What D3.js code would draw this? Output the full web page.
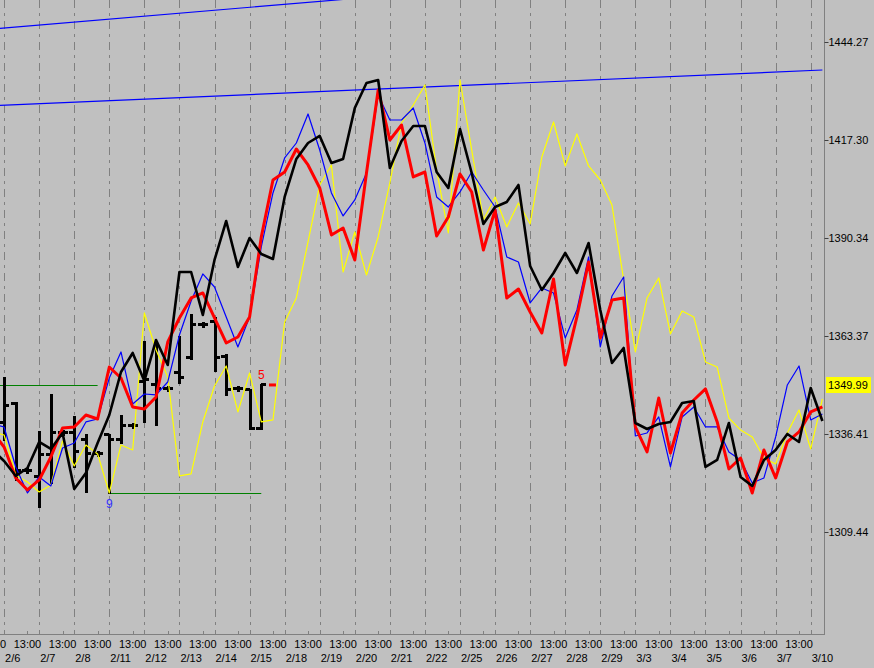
<!DOCTYPE html>
<html><head><meta charset="utf-8">
<script src="https://cdn.jsdelivr.net/npm/d3@7"></script>
<style>html,body{margin:0;padding:0;background:#c0c0c0;overflow:hidden}</style>
</head><body><svg id="c" width="874" height="668"></svg>
<script>
// ---- data ----
const dates = ["2/6","2/7","2/8","2/11","2/12","2/13","2/14","2/15","2/18","2/19","2/20","2/21","2/22","2/25","2/26","2/27","2/28","2/29","3/3","3/4","3/5","3/6","3/7","3/10"];
const timeLabel = "13:00";
const yTicks = [1309.44, 1336.41, 1363.37, 1390.34, 1417.30, 1444.27];
const lastValue = 1349.99;

const blackLine = [1332.01,1328.99,1324.86,1327.06,1334.21,1332.29,1336.69,1321.28,1325.68,1333.94,1341.64,1353.47,1358.70,1351.00,1362.28,1355.40,1380.99,1380.99,1369.16,1384.29,1395.02,1382.36,1390.34,1385.94,1384.57,1401.63,1412.08,1416.48,1418.41,1410.98,1412.08,1426.11,1432.99,1433.82,1409.60,1417.03,1421.16,1421.16,1408.50,1404.10,1420.34,1408.23,1394.20,1398.87,1400.25,1404.93,1382.64,1376.04,1380.71,1386.22,1380.71,1388.97,1370.53,1355.95,1360.08,1339.44,1337.79,1339.17,1339.72,1344.94,1345.49,1327.33,1329.26,1339.44,1324.58,1322.11,1329.26,1332.01,1336.41,1334.21,1349.07,1339.99];
const redLine = [1336.97,1332.84,1324.31,1321.01,1323.76,1330.09,1338.07,1338.34,1341.64,1340.54,1354.85,1351.82,1343.84,1343.29,1346.60,1361.73,1368.33,1373.83,1375.21,1368.33,1361.45,1363.10,1368.61,1390.62,1406.30,1408.50,1414.83,1410.43,1404.10,1391.17,1393.10,1384.29,1408.23,1431.07,1417.31,1421.44,1407.13,1408.50,1390.89,1396.12,1407.95,1403.00,1387.04,1398.05,1373.83,1376.31,1369.98,1364.21,1379.06,1355.40,1368.61,1383.74,1362.83,1373.28,1373.83,1338.34,1331.46,1346.32,1331.19,1342.19,1345.77,1348.80,1339.72,1326.78,1329.81,1320.18,1332.01,1324.31,1334.21,1336.97,1342.47,1343.84];
const blueLine = [1339.17,1338.34,1327.33,1320.18,1324.58,1322.11,1332.56,1333.94,1339.72,1340.54,1351.82,1358.98,1344.67,1347.42,1347.15,1350.72,1363.65,1373.01,1380.44,1376.86,1368.61,1360.35,1368.61,1387.87,1402.73,1412.36,1416.48,1424.46,1414.56,1402.73,1396.40,1400.80,1408.23,1429.69,1422.81,1422.81,1426.11,1416.48,1401.63,1398.87,1403.00,1408.50,1403.55,1398.87,1385.12,1383.74,1372.46,1376.59,1375.21,1362.83,1370.53,1385.12,1360.35,1374.39,1379.61,1335.86,1336.69,1341.09,1327.33,1341.09,1343.84,1338.34,1338.34,1331.46,1329.26,1322.93,1324.31,1335.59,1349.90,1355.13,1340.27,1341.92];
const yellowLine = [1336.97,1336.14,1325.13,1323.21,1320.46,1322.38,1334.49,1327.61,1333.39,1330.91,1320.18,1333.39,1332.01,1369.71,1359.53,1352.10,1324.86,1325.41,1339.72,1349.62,1355.13,1342.47,1353.20,1339.72,1340.27,1367.23,1373.83,1389.24,1404.93,1410.43,1380.99,1392.00,1380.16,1390.62,1405.48,1421.99,1426.94,1432.44,1409.05,1391.72,1433.82,1414.56,1395.30,1401.63,1393.37,1399.97,1394.20,1412.63,1422.26,1410.16,1418.96,1410.16,1406.30,1399.42,1378.79,1358.98,1373.83,1379.34,1363.93,1370.26,1368.61,1356.23,1354.85,1340.82,1337.52,1335.59,1329.81,1328.16,1336.69,1343.02,1332.29,1346.05];

// OHLC bars, starting at bar index 1
const barStart = 1;
const barOpen  = [1339.44,1344.67,1326.23,1324.58,1330.64,1336.69,1336.69,1334.76,1330.91,1336.14,1334.76,1338.62,1350.72,1349.90,1348.80,1353.20,1357.32,1366.40,1367.23,1357.60,1348.80,1348.52,1337.79];
const barHigh  = [1351.82,1344.94,1326.78,1336.97,1347.15,1337.24,1341.09,1336.14,1331.46,1336.14,1341.37,1339.17,1361.73,1360.90,1349.35,1363.10,1369.16,1366.96,1368.33,1358.15,1349.35,1348.52,1349.90];
const barLow   = [1334.76,1323.76,1325.68,1316.33,1322.93,1336.14,1327.33,1320.46,1330.36,1320.18,1333.94,1338.07,1339.72,1338.89,1348.25,1350.45,1357.05,1365.86,1353.75,1347.15,1348.25,1337.79,1337.79];
const barClose = [1344.12,1326.23,1326.23,1330.64,1336.69,1336.69,1331.46,1330.91,1330.91,1334.76,1338.62,1338.62,1351.27,1348.80,1348.80,1351.82,1366.40,1366.40,1357.32,1348.52,1348.80,1337.79,1349.90];
const markIndex = [24], markValue = [1349.90];

const trendA = [[0, 1447.86], [30, 1455.98]];
const trendB = [[0, 1426.76], [71, 1436.56]];
const greenLevels = [[0, 9, 1349.99], [10, 23, 1320.18]];
const swingLabels = [[10, 1320.18, "9", "below"], [23, 1349.90, "5", "above"]];

// ---- drawing ----
const W = 874, H = 668, plotR = 824, plotB = 634;
const svg = d3.select("#c");
const font = "'Liberation Sans', Arial, sans-serif";
const x = d3.scaleLinear().domain([0, 71]).range([-7.6, 822.4]);
const y = d3.scaleLinear().domain([1309.44, 1444.27]).range([532, 42]);

svg.append("rect").attr("width", W).attr("height", H).attr("fill", "#c0c0c0");
svg.append("defs").append("clipPath").attr("id", "clip")
  .append("rect").attr("x", 0).attr("y", 0).attr("width", plotR).attr("height", plotB);
const g = svg.append("g").attr("clip-path", "url(#clip)");

// vertical dashed grid at day starts
const gridIdx = d3.range(1, 72, 3);
g.selectAll("line.grid").data(gridIdx).join("line")
  .attr("x1", d => Math.round(x(d)) + 0.5).attr("x2", d => Math.round(x(d)) + 0.5)
  .attr("y1", 0).attr("y2", plotB)
  .attr("stroke", "#808080").attr("stroke-width", 1).attr("stroke-dasharray", "8,5,3,5");

// trend lines
[trendA, trendB].forEach(t => {
  g.append("line").attr("x1", x(t[0][0])).attr("y1", y(t[0][1]))
    .attr("x2", x(t[1][0])).attr("y2", y(t[1][1]))
    .attr("stroke", "#0000ff").attr("stroke-width", 1.2);
});
// green levels
greenLevels.forEach(l => {
  g.append("line").attr("x1", x(l[0])).attr("x2", x(l[1]))
    .attr("y1", Math.round(y(l[2])) + 0.5).attr("y2", Math.round(y(l[2])) + 0.5)
    .attr("stroke", "#008000").attr("stroke-width", 1);
});

// OHLC bars
const bars = barOpen.map((o, k) => ({i: k + barStart, o, h: barHigh[k], l: barLow[k], c: barClose[k]}));
const bg = g.append("g").attr("stroke", "#000").attr("stroke-width", 3).attr("shape-rendering", "crispEdges");
bars.forEach(b => {
  const cx = Math.round(x(b.i));
  bg.append("line").attr("x1", cx).attr("x2", cx).attr("y1", y(b.h) - 1).attr("y2", y(b.l) + 1);
  bg.append("line").attr("x1", cx - 5).attr("x2", cx).attr("y1", y(b.o)).attr("y2", y(b.o));
  bg.append("line").attr("x1", cx).attr("x2", cx + 5).attr("y1", y(b.c)).attr("y2", y(b.c));
});
markIndex.forEach((mi, k) => {
  g.append("line").attr("x1", x(mi) - 4).attr("x2", x(mi) + 3)
    .attr("y1", y(markValue[k])).attr("y2", y(markValue[k]))
    .attr("stroke", "#ff0000").attr("stroke-width", 3);
});

// series lines
const line = d3.line().x((d, i) => x(i)).y(d => y(d));
const series = [
  [yellowLine, "#ffff00", 1.2],
  [blueLine, "#0000ff", 1.2],
  [redLine, "#ff0000", 3],
  [blackLine, "#000000", 2.6]
];
series.forEach(s => {
  g.append("path").datum(s[0]).attr("d", line).attr("fill", "none")
    .attr("stroke", s[1]).attr("stroke-width", s[2]).attr("stroke-linejoin", "round");
});

// swing labels
swingLabels.forEach(s => {
  g.append("text").attr("x", x(s[0])).attr("y", s[3] === "below" ? y(s[1]) + 15 : y(s[1]) - 6)
    .attr("text-anchor", "middle").attr("font-family", font).attr("font-size", 12)
    .attr("fill", s[3] === "below" ? "#3030ff" : "#ff0000").text(s[2]);
});

// axes frame
svg.append("line").attr("x1", plotR + 0.5).attr("x2", plotR + 0.5).attr("y1", 0).attr("y2", plotB + 1)
  .attr("stroke", "#808080");
svg.append("line").attr("x1", 0).attr("x2", plotR + 1).attr("y1", plotB + 0.5).attr("y2", plotB + 0.5)
  .attr("stroke", "#808080");

// right axis ticks + labels
const yAxis = d3.axisRight(y).tickValues(yTicks).tickSize(4).tickFormat(d3.format(".2f"));
const ya = svg.append("g").attr("transform", `translate(${plotR + 0.5},0)`).call(yAxis);
ya.select(".domain").remove();
ya.selectAll(".tick line").attr("stroke", "#404040");
ya.selectAll(".tick text").attr("x", 4).attr("dy", "0.36em")
  .attr("font-family", font).attr("font-size", 11).attr("fill", "#000");

// last value box
const ly = y(lastValue);
svg.append("rect").attr("x", 826).attr("y", Math.round(ly) - 8).attr("width", 45).attr("height", 16).attr("fill", "#ffff00");
svg.append("text").attr("x", 828).attr("y", ly).attr("dy", "0.36em")
  .attr("font-family", font).attr("font-size", 11).attr("fill", "#000").text(d3.format(".2f")(lastValue));

// bottom axis: 13:00 ticks and labels
const timeIdx = d3.range(0, 72, 3);
svg.selectAll("line.tt").data(timeIdx).join("line")
  .attr("x1", d => Math.round(x(d)) + 0.5).attr("x2", d => Math.round(x(d)) + 0.5)
  .attr("y1", plotB - 3).attr("y2", plotB).attr("stroke", "#808080");
svg.selectAll("text.tl").data(timeIdx).join("text")
  .attr("x", d => x(d)).attr("y", 648).attr("text-anchor", "middle")
  .attr("font-family", font).attr("font-size", 11).attr("fill", "#000").text(timeLabel);
svg.selectAll("text.dl").data(dates).join("text")
  .attr("x", (d, k) => x(1 + 3 * k) + 1).attr("y", 662)
  .attr("font-family", font).attr("font-size", 11).attr("fill", "#000").text(d => d);
</script>
</body></html>
